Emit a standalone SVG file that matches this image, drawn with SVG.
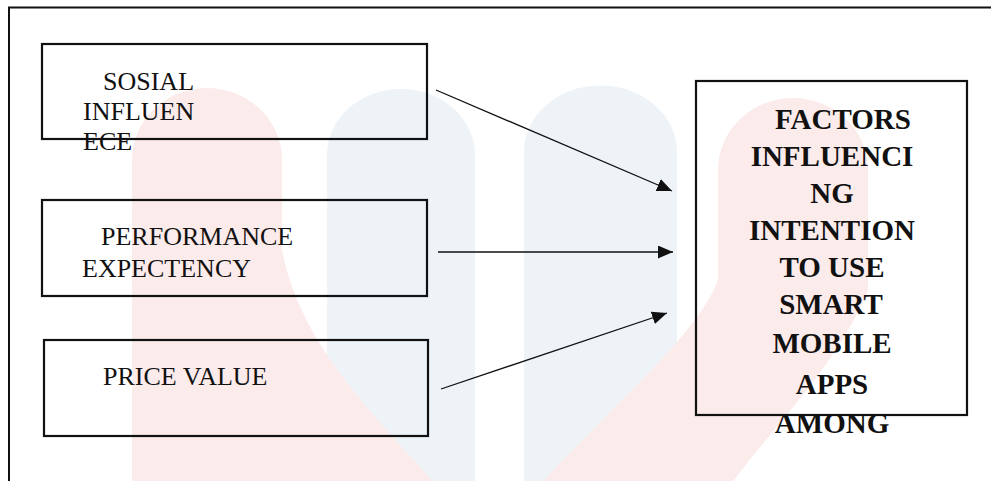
<svg xmlns="http://www.w3.org/2000/svg" width="991" height="481" viewBox="0 0 991 481">
<style>
.box{fill:none;stroke:#111;stroke-width:2.2}
.lbl{font-family:"Liberation Serif","Times New Roman",serif;font-size:26px;fill:#111}
.big{font-family:"Liberation Serif","Times New Roman",serif;font-size:29px;font-weight:bold;fill:#111;text-anchor:middle}
.con{stroke:#111;stroke-width:1.3;fill:none}
.wb{fill:#eef3f8}
.wr{fill:#fcebeb}
</style>
<defs>
<marker id="ah" markerUnits="userSpaceOnUse" markerWidth="16" markerHeight="14" refX="15" refY="6.5" orient="auto">
<path d="M0,0 L15,6.5 L0,13 Z" fill="#111"/>
</marker>
</defs>
<rect width="991" height="481" fill="#fff"/>
<g id="watermark">
<path class="wb" d="M327,481 L327,155 A74,66 0 0 1 475,155 L475,481 Z"/>
<path class="wb" d="M524,481 L524,152 A76,66 0 0 1 677,152 L677,481 Z"/>
<path class="wr" d="M132,481 L132,160 A75,72 0 0 1 282,160 L282,250 C300,340 360,400 433,481 Z"/>
<path class="wr" d="M718,170 A75,72 0 0 1 868,170 L868,290 C840,360 780,420 733,481 L543,481 C620,400 700,330 718,280 Z"/>
</g>
<path id="frame" d="M9,481 L9,7.5 L991,7.5" fill="none" stroke="#111" stroke-width="2"/>
<g id="social-influence">
<rect class="box" x="42" y="44" width="385" height="95"/>
<text class="lbl" x="103" y="90">SOSIAL</text>
<text class="lbl" x="83" y="120">INFLUEN</text>
<text class="lbl" x="83" y="150">ECE</text>
</g>
<g id="performance-expectancy">
<rect class="box" x="42" y="200" width="385" height="96"/>
<text class="lbl" x="101" y="245">PERFORMANCE</text>
<text class="lbl" x="82" y="277">EXPECTENCY</text>
</g>
<g id="price-value">
<rect class="box" x="44" y="340" width="384" height="96"/>
<text class="lbl" x="103" y="385">PRICE VALUE</text>
</g>
<g id="factors">
<rect class="box" x="696" y="81" width="271" height="334"/>
<text class="big" x="843" y="129">FACTORS</text>
<text class="big" x="832" y="166">INFLUENCI</text>
<text class="big" x="832" y="203">NG</text>
<text class="big" x="832" y="240">INTENTION</text>
<text class="big" x="832" y="277">TO USE</text>
<text class="big" x="831" y="314">SMART</text>
<text class="big" x="832" y="353">MOBILE</text>
<text class="big" x="832" y="394">APPS</text>
<text class="big" x="832" y="433">AMONG</text>
</g>
<g id="connectors">
<line class="con" x1="436" y1="90" x2="672" y2="191" marker-end="url(#ah)"/>
<line class="con" x1="438" y1="252" x2="673" y2="252" marker-end="url(#ah)"/>
<line class="con" x1="441" y1="389" x2="667" y2="313" marker-end="url(#ah)"/>
</g>
</svg>
